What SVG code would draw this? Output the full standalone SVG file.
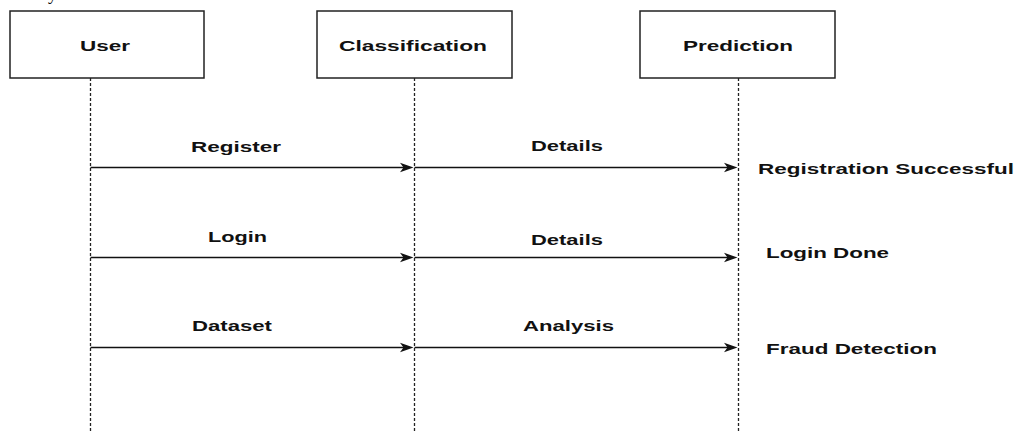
<svg xmlns="http://www.w3.org/2000/svg" width="1016" height="434" viewBox="0 0 1016 434">
<defs>
<style>
.box{fill:#fff;stroke:#222;stroke-width:1.5}
.life{stroke:#222;stroke-width:1.3;stroke-dasharray:3 2;fill:none}
.msg{stroke:#111;stroke-width:1.5;fill:none}
.t{font-family:"Liberation Sans",Arial,sans-serif;font-weight:bold;font-size:15px;fill:#111}
.head{fill:#111;stroke:none}
</style>
</defs>
<rect width="1016" height="434" fill="#fff"/>
<text x="48" y="0" font-family="'Liberation Serif',serif" font-size="18" fill="#111">y</text>
<g id="user">
<rect class="box" x="10" y="11" width="194" height="67"/>
<text class="t" x="80" y="51" textLength="50" lengthAdjust="spacingAndGlyphs">User</text>
<line class="life" x1="90.5" y1="78" x2="90.5" y2="433"/>
</g>
<g id="classification">
<rect class="box" x="317" y="11" width="195" height="67"/>
<text class="t" x="339" y="51" textLength="148" lengthAdjust="spacingAndGlyphs">Classification</text>
<line class="life" x1="414.5" y1="78" x2="414.5" y2="433"/>
</g>
<g id="prediction">
<rect class="box" x="640" y="11" width="195" height="67"/>
<text class="t" x="683" y="51" textLength="110" lengthAdjust="spacingAndGlyphs">Prediction</text>
<line class="life" x1="738.5" y1="78" x2="738.5" y2="433"/>
</g>
<g id="connectors">
<line class="msg" x1="90.5" y1="167.5" x2="404" y2="167.5"/>
<path class="head" d="M413.5,167.5 L400,162.8 L403.5,167.5 L400,172.2 Z"/>
<line class="msg" x1="414.5" y1="167.5" x2="728" y2="167.5"/>
<path class="head" d="M737.5,167.5 L724,162.8 L727.5,167.5 L724,172.2 Z"/>
<line class="msg" x1="90.5" y1="257.5" x2="404" y2="257.5"/>
<path class="head" d="M413.5,257.5 L400,252.8 L403.5,257.5 L400,262.2 Z"/>
<line class="msg" x1="414.5" y1="257.5" x2="728" y2="257.5"/>
<path class="head" d="M737.5,257.5 L724,252.8 L727.5,257.5 L724,262.2 Z"/>
<line class="msg" x1="90.5" y1="347.5" x2="404" y2="347.5"/>
<path class="head" d="M413.5,347.5 L400,342.8 L403.5,347.5 L400,352.2 Z"/>
<line class="msg" x1="414.5" y1="347.5" x2="728" y2="347.5"/>
<path class="head" d="M737.5,347.5 L724,342.8 L727.5,347.5 L724,352.2 Z"/>
</g>
<g id="labels">
<text class="t" x="191" y="152" textLength="90" lengthAdjust="spacingAndGlyphs">Register</text>
<text class="t" x="531" y="151" textLength="72" lengthAdjust="spacingAndGlyphs">Details</text>
<text class="t" x="758" y="174" textLength="256" lengthAdjust="spacingAndGlyphs">Registration Successful</text>
<text class="t" x="208" y="242" textLength="59" lengthAdjust="spacingAndGlyphs">Login</text>
<text class="t" x="531" y="245" textLength="72" lengthAdjust="spacingAndGlyphs">Details</text>
<text class="t" x="766" y="258" textLength="123" lengthAdjust="spacingAndGlyphs">Login Done</text>
<text class="t" x="192" y="331" textLength="80" lengthAdjust="spacingAndGlyphs">Dataset</text>
<text class="t" x="523" y="331" textLength="91" lengthAdjust="spacingAndGlyphs">Analysis</text>
<text class="t" x="766" y="354" textLength="171" lengthAdjust="spacingAndGlyphs">Fraud Detection</text>
</g>
</svg>
